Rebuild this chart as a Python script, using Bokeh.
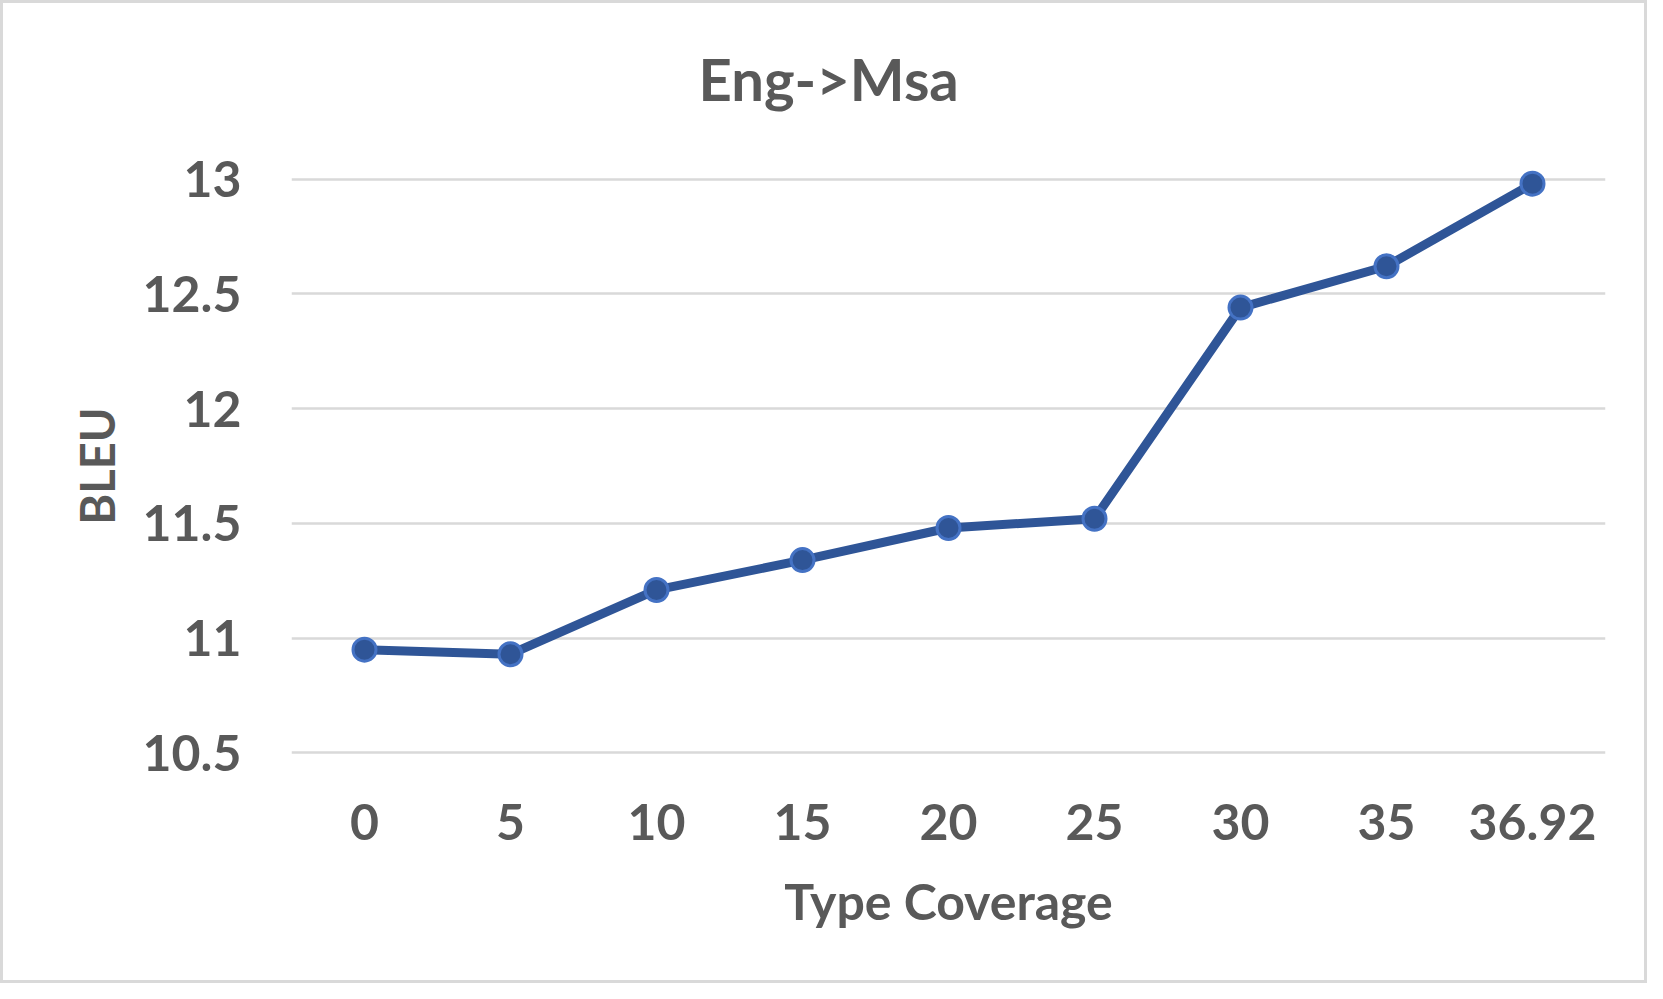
from bokeh.plotting import figure
from bokeh.models import FactorRange, Range1d, FixedTicker, NumeralTickFormatter
from bokeh.embed import file_html
from bokeh.resources import INLINE

categories = ["0", "5", "10", "15", "20", "25", "30", "35", "36.92"]
bleu = [10.95, 10.93, 11.21, 11.34, 11.48, 11.52, 12.44, 12.62, 12.98]
y_ticks = [10.5, 11, 11.5, 12, 12.5, 13]

FONT = "Lato"
GREY = "#595959"

p = figure(
    width=1647, height=983,
    x_range=FactorRange(*categories),
    y_range=Range1d(10.38, 13.12),
    output_backend="svg", toolbar_location=None,
    min_border_left=288, min_border_right=45,
    min_border_top=147, min_border_bottom=206,
    title="Eng->Msa",
)
p.styles = {"border": "3px solid #D9D9D9"}
p.outline_line_color = None
p.background_fill_color = "white"
p.border_fill_color = "white"

p.title.align = "left"
p.title.offset = 407
p.title.text_font = FONT
p.title.text_font_style = "bold"
p.title.text_font_size = "58px"
p.title.text_color = GREY
p.title.standoff = 77

p.xgrid.grid_line_color = None
p.ygrid.grid_line_color = "#D9D9D9"
p.ygrid.grid_line_width = 2.5
p.yaxis.ticker = FixedTicker(ticks=y_ticks)
p.yaxis.formatter = NumeralTickFormatter(format="0.[0]")

for ax in (p.xaxis[0], p.yaxis[0]):
    ax.axis_line_color = None
    ax.major_tick_line_color = None
    ax.minor_tick_line_color = None
    ax.major_label_text_font = FONT
    ax.major_label_text_font_style = "bold"
    ax.major_label_text_font_size = "50px"
    ax.major_label_text_color = GREY
    ax.axis_label_text_font = FONT
    ax.axis_label_text_font_style = "bold"
    ax.axis_label_text_color = GREY

p.xaxis.axis_label = "Type Coverage"
p.yaxis.axis_label = "BLEU"
p.xaxis.axis_label_text_font_size = "50px"
p.yaxis.axis_label_text_font_size = "47px"
p.yaxis.major_label_standoff = 44
p.xaxis.major_label_standoff = 17
p.xaxis.axis_label_standoff = 28
p.yaxis.axis_label_standoff = 15

p.line(categories, bleu, line_width=9, line_color="#2F5597", line_join="round")
p.scatter(categories, bleu, size=23, fill_color="#2F5597", line_color="#4472C4", line_width=3)

open("out.html", "w").write(file_html(p, INLINE))
